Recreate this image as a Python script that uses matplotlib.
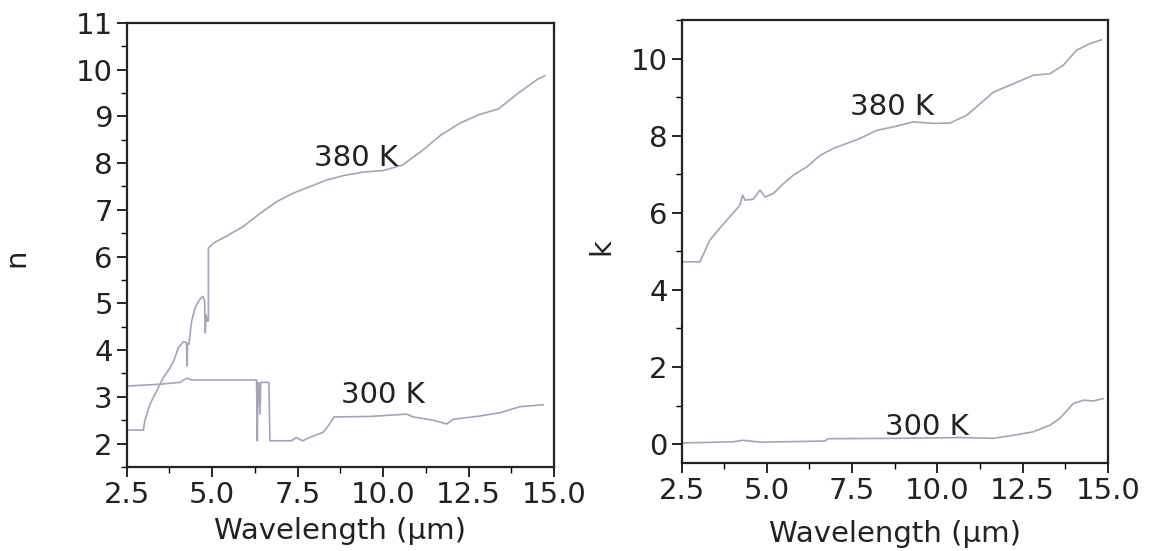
import matplotlib
matplotlib.use("Agg")
import matplotlib.pyplot as plt
from matplotlib.ticker import MultipleLocator, FormatStrFormatter

# refractive index n, 380 K
n380_wl = [2.5, 2.99, 3.03, 3.18, 3.38, 3.57, 3.77, 3.91, 4.01, 4.16, 4.25, 4.27, 4.28, 4.32,
           4.40, 4.50, 4.63, 4.73, 4.78, 4.80, 4.82, 4.86, 4.89, 4.89, 5.04, 5.43, 5.92, 6.41,
           6.90, 7.38, 7.87, 8.36, 8.88, 9.44, 10.0, 10.57, 11.13, 11.69, 12.26, 12.82, 13.38,
           13.94, 14.51, 14.73]
n380_val = [2.29, 2.29, 2.49, 2.84, 3.13, 3.41, 3.62, 3.83, 4.05, 4.18, 4.16, 3.66, 4.14, 4.12,
            4.62, 4.90, 5.08, 5.15, 5.05, 4.37, 4.75, 4.62, 4.62, 6.18, 6.29, 6.44, 6.65, 6.93,
            7.18, 7.36, 7.50, 7.64, 7.74, 7.81, 7.84, 7.96, 8.26, 8.60, 8.86, 9.04, 9.16,
            9.49, 9.79, 9.87]

# refractive index n, 300 K
n300_wl = [2.5, 3.47, 4.06, 4.26, 4.40, 6.30, 6.32, 6.34, 6.36, 6.40, 6.42, 6.44, 6.62, 6.66,
           6.69, 7.32, 7.46, 7.65, 7.85, 8.24, 8.44, 8.56, 9.60, 10.69, 10.88, 11.47, 11.86,
           12.05, 12.83, 13.42, 14.0, 14.68]
n300_val = [3.23, 3.27, 3.31, 3.40, 3.36, 3.36, 2.06, 3.30, 3.30, 2.63, 3.31, 3.31, 3.31, 3.31,
            2.06, 2.06, 2.13, 2.06, 2.13, 2.24, 2.42, 2.57, 2.58, 2.63, 2.57, 2.50, 2.42,
            2.52, 2.59, 2.66, 2.79, 2.83]

# extinction coefficient k, 380 K
k380_wl = [2.5, 3.04, 3.33, 3.62, 3.92, 4.21, 4.29, 4.36, 4.60, 4.80, 4.95, 5.19, 5.49, 5.78,
           6.17, 6.56, 6.95, 7.34, 7.73, 8.22, 8.71, 9.30, 9.88, 10.37, 10.86, 11.25, 11.64,
           12.23, 12.81, 13.30, 13.69, 14.08, 14.47, 14.81]
k380_val = [4.73, 4.73, 5.29, 5.60, 5.90, 6.20, 6.46, 6.33, 6.35, 6.59, 6.41, 6.50, 6.76, 6.98,
            7.19, 7.49, 7.67, 7.80, 7.93, 8.14, 8.23, 8.36, 8.32, 8.33, 8.53, 8.83, 9.13,
            9.35, 9.57, 9.61, 9.83, 10.22, 10.39, 10.49]

# extinction coefficient k, 300 K
k300_wl = [2.5, 4.0, 4.31, 4.80, 6.70, 6.80, 8.71, 10.66, 11.64, 12.23, 12.81, 13.30, 13.59,
           13.98, 14.28, 14.57, 14.86]
k300_val = [0.03, 0.06, 0.10, 0.05, 0.08, 0.14, 0.15, 0.17, 0.15, 0.23, 0.32, 0.49, 0.67,
            1.05, 1.14, 1.12, 1.18]

LINE = "#a4a4b6"
FS = 21

plt.rcParams["font.family"] = "DejaVu Sans"
plt.rcParams["font.size"] = FS

fig = plt.figure(figsize=(11.62, 5.51), dpi=100)
ax1 = fig.add_axes([0.109, 0.1525, 0.3678, 0.806])
ax2 = fig.add_axes([0.5865, 0.159, 0.367, 0.8045])


def style(ax, ymaj, ymin):
    ax.set_xlim(2.5, 15.0)
    ax.xaxis.set_major_locator(MultipleLocator(2.5))
    ax.xaxis.set_minor_locator(MultipleLocator(1.25))
    ax.xaxis.set_major_formatter(FormatStrFormatter("%.1f"))
    ax.yaxis.set_major_locator(MultipleLocator(ymaj))
    ax.yaxis.set_minor_locator(MultipleLocator(ymin))
    ax.tick_params(which="major", direction="out", length=7, width=1.2, pad=3, labelsize=FS,
                   labelcolor="#222222")
    ax.tick_params(which="minor", direction="out", length=4, width=1.0)
    ax.tick_params(top=False, right=False)
    for sp in ax.spines.values():
        sp.set_linewidth(1.6)
        sp.set_color("#222222")
    ax.set_xlabel("Wavelength (\u00b5m)", fontsize=FS, color="#222222")


ax1.plot(n380_wl, n380_val, color=LINE, lw=1.2)
ax1.plot(n300_wl, n300_val, color=LINE, lw=1.2)
style(ax1, 1, 0.5)
ax1.set_ylim(1.5, 11)
ax1.set_ylabel("n", fontsize=FS, color="#222222")
ax1.yaxis.set_label_coords(-0.226, 0.47)
ax1.xaxis.set_label_coords(0.5, -0.113)
ax1.text(9.22, 8.11, "380 K", ha="center", va="center", fontsize=FS, color="#222222")
ax1.text(10.0, 3.05, "300 K", ha="center", va="center", fontsize=FS, color="#222222")

ax2.plot(k380_wl, k380_val, color=LINE, lw=1.2)
ax2.plot(k300_wl, k300_val, color=LINE, lw=1.2)
style(ax2, 2, 1)
ax2.set_ylim(-0.5, 11)
ax2.set_ylabel("k", fontsize=FS, color="#222222")
ax2.yaxis.set_label_coords(-0.154, 0.49)
ax2.xaxis.set_label_coords(0.5, -0.128)
ax2.text(8.67, 8.75, "380 K", ha="center", va="center", fontsize=FS, color="#222222")
ax2.text(9.69, 0.45, "300 K", ha="center", va="center", fontsize=FS, color="#222222")

fig.savefig("out.png", dpi=100, facecolor="white")
